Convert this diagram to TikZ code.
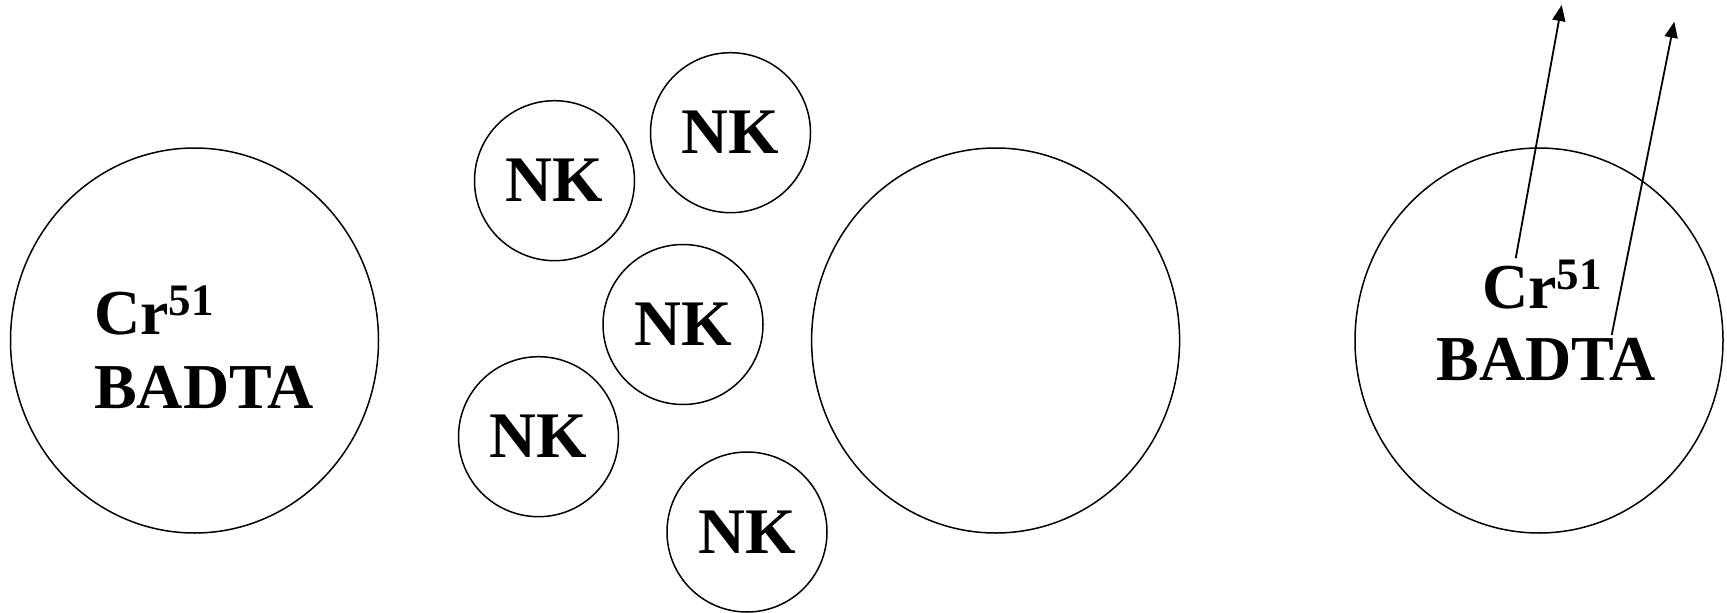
\documentclass[tikz,border=0pt]{standalone}
\usepackage{fontspec}
\setmainfont{Liberation Serif}
\usetikzlibrary{arrows.meta,shapes.geometric}
\tikzset{
  bigcell/.style={draw, line width=1.5pt, ellipse, minimum width=368pt, minimum height=385pt, inner sep=0pt},
  nkcell/.style={draw, line width=1.5pt, circle, minimum size=160pt, inner sep=0pt,
    font=\fontsize{65}{65}\selectfont\bfseries},
  lbl/.style={inner sep=0pt, font=\fontsize{64}{64}\selectfont\bfseries},
  release/.style={line width=1.8pt, -{Triangle[length=16pt,width=13pt]}}
}
\newcommand{\supnum}[1]{\raisebox{19pt}{\fontsize{45}{45}\selectfont #1}}
\begin{document}
\begin{tikzpicture}[x=1pt,y=-1pt]
\useasboundingbox (0,0) rectangle (1727,613);
% big target cells
\node[bigcell] (left) at (194.5,340.5) {};
\node[bigcell] (mid) at (995.6,340.5) {};
\node[bigcell] (right) at (1539,340.5) {};
% NK cells
\node[nkcell] (nk1) at (554.5,180.7) {NK};
\node[nkcell] (nk2) at (730.5,132.7) {NK};
\node[nkcell] (nk3) at (683,324.5) {NK};
\node[nkcell] (nk4) at (538.5,436.7) {NK};
\node[nkcell] (nk5) at (747,532) {NK};
% left labels
\node[lbl, anchor=base west] (crL) at (94,334) {Cr\supnum{51}};
\node[lbl, anchor=base west] (badtaL) at (94,408) {BADTA};
% right labels
\node[lbl, anchor=base] (crR) at (1542,308) {Cr\supnum{51}};
\node[lbl, anchor=base] (badtaR) at (1546.5,380) {BADTA};
% release arrows
\coordinate (a1s) at (1515.7,258.3);
\coordinate (a1e) at (1561.7,5);
\coordinate (a2s) at (1611.7,335);
\coordinate (a2e) at (1674.3,21.7);
\draw[release] (a1s) -- (a1e);
\draw[release] (a2s) -- (a2e);
\end{tikzpicture}
\end{document}
